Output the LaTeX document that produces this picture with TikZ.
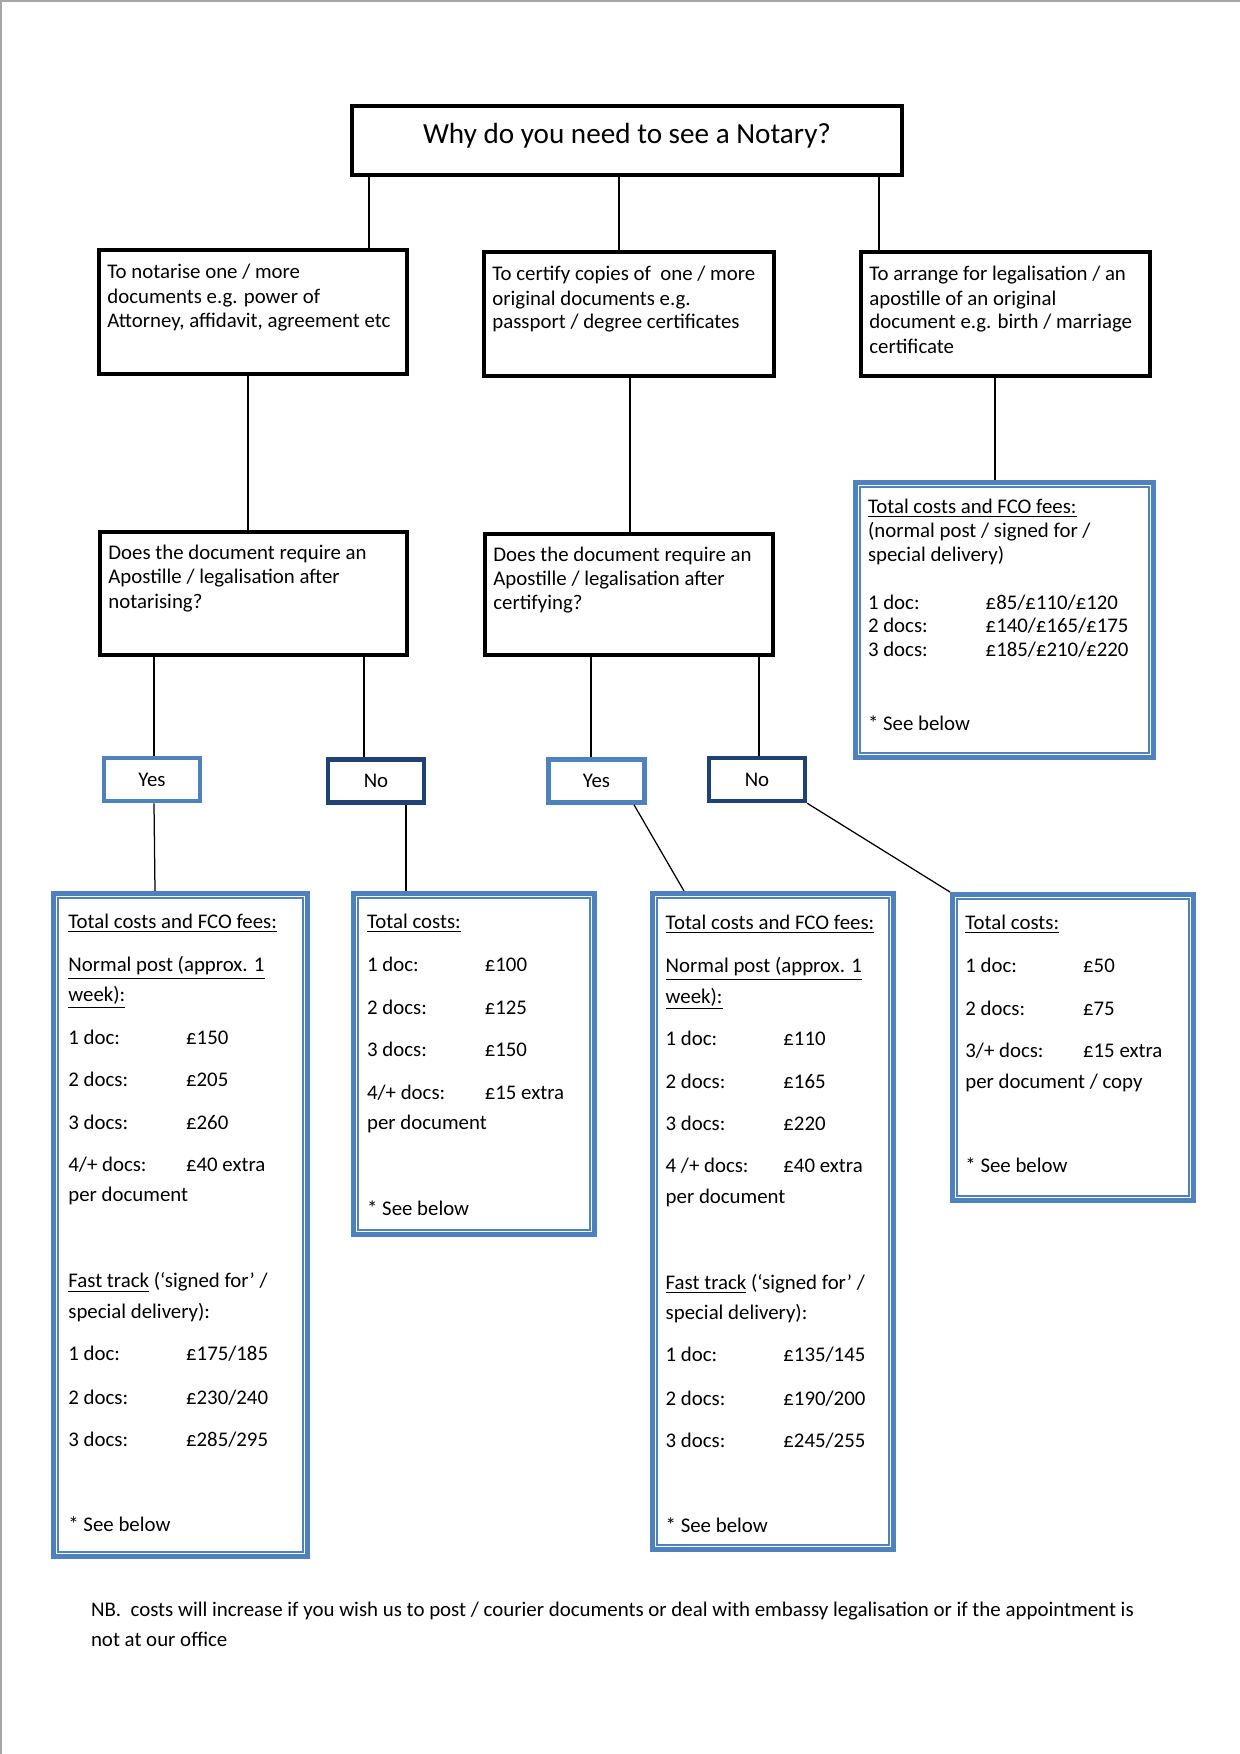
\documentclass[tikz,border=0pt]{standalone}
\usepackage{fontspec}
\setmainfont{Carlito}
\usepackage{graphicx}
\usetikzlibrary{fit}
\definecolor{accblue}{HTML}{4F81BD}
\definecolor{navyblue}{HTML}{1F4173}
\newcommand\pricerow[2]{\makebox[56.5pt][l]{#1}#2}
\newcommand\innerframe[1]{\draw[innerline] ([shift={(7,7)}]#1.north west) rectangle ([shift={(-7,-7)}]#1.south east);}
\begin{document}
\begin{tikzpicture}[x=0.48pt,y=-0.48pt,
  blk/.style={draw=black,line width=1.8pt,inner sep=0pt},
  conn/.style={draw=black,line width=0.6pt},
  bluebox/.style={draw=accblue,line width=2.4pt,inner sep=0pt},
  innerline/.style={draw=accblue,line width=0.75pt},
  yesbox/.style={draw=accblue,line width=2.2pt,minimum width=46pt,minimum height=20.6pt,inner sep=0pt,font=\fontsize{10}{12}\selectfont},
  nobox/.style={yesbox,draw=navyblue},
  txt/.style={anchor=mid west,inner sep=0pt,yshift=-1.4pt,font=\fontsize{10}{12}\selectfont},
]
\useasboundingbox (0,0) rectangle (1240,1754);
% page edge
\draw[gray!70,line width=0.7pt] (1,1754) -- (1,1) -- (1240,1);

% top box
\node[blk,fit={(352,106) (902,175)}] (T) {};
\node[inner sep=0pt,font=\fontsize{14}{17}\selectfont] (Tt) at (627,135.5) {Why do you need to see a Notary?};

% level 1
\node[blk,fit={(99,250) (407,374)}] (A1) {};
\node[blk,fit={(484,252) (774,376)}] (B1) {};
\node[blk,fit={(861,252) (1150,376)}] (C1) {};
\foreach \yv/\tv [count=\i] in {270.6/{To notarise one / more},295.2/{documents e.g. power of},319.8/{Attorney, affidavit, agreement etc}}
  \node[txt] (A1t-\i) at (107,\yv) {\tv};
\foreach \yv/\tv [count=\i] in {272.8/{To certify copies of \ one / more},297.4/{original documents e.g.},321/{passport / degree certificates}}
  \node[txt] (B1t-\i) at (492,\yv) {\tv};
\foreach \yv/\tv [count=\i] in {272.8/{To arrange for legalisation / an},297.4/{apostille of an original},321/{document e.g. birth / marriage},345.5/{certificate}}
  \node[txt] (C1t-\i) at (869,\yv) {\tv};

% level 2
\node[blk,fit={(100,532) (407,655)}] (A2) {};
\node[blk,fit={(485,534) (773,655)}] (B2) {};
\node[bluebox,fit={(855.5,482.5) (1153.5,757.5)}] (C2) {};
\innerframe{C2}
\foreach \yv/\tv [count=\i] in {551.2/{Does the document require an},575.8/{Apostille / legalisation after},600.4/{notarising?}}
  \node[txt] (A2t-\i) at (108,\yv) {\tv};
\foreach \yv/\tv [count=\i] in {553.5/{Does the document require an},578/{Apostille / legalisation after},601.5/{certifying?}}
  \node[txt] (B2t-\i) at (493,\yv) {\tv};
\foreach \yv/\tv [count=\i] in {505.4/{\underline{Total costs and FCO fees:}},530/{(normal post / signed for /},553.5/{special delivery)},601.5/{\pricerow{1 doc:}{£85/£110/£120}},625/{\pricerow{2 docs:}{£140/£165/£175}},648.5/{\pricerow{3 docs:}{£185/£210/£220}},722.3/{* See below}}
  \node[txt] (C2t-\i) at (867.6,\yv) {\tv};

% yes / no
\node[yesbox] (YA) at (152,779.5) {Yes};
\node[nobox] (NA) at (376,781) {No};
\node[yesbox] (YB) at (596.5,781) {Yes};
\node[nobox] (NB) at (757,779.5) {No};

% cost boxes
\node[bluebox,fit={(53.5,893.5) (307.5,1556.5)}] (D1) {};
\node[bluebox,fit={(353.5,893.5) (594.5,1234.5)}] (D2) {};
\node[bluebox,fit={(652.5,893.5) (893.5,1549.5)}] (D3) {};
\node[bluebox,fit={(952.5,894.5) (1193.5,1200.5)}] (D4) {};
\innerframe{D1}
\innerframe{D2}
\innerframe{D3}
\innerframe{D4}

\foreach \yv/\tv [count=\i] in {920.2/{\underline{Total costs and FCO fees:}},963.8/{\underline{Normal post (approx. 1}},994/{\underline{week):}},1036.5/{\pricerow{1 doc:}{£150}},1079/{\pricerow{2 docs:}{£205}},1121.4/{\pricerow{3 docs:}{£260}},1164/{\pricerow{4/+ docs:}{£40 extra}},1194/{per document},1280/{\underline{Fast track} (‘signed for’ /},1310.4/{special delivery):},1353/{\pricerow{1 doc:}{£175/185}},1396.5/{\pricerow{2 docs:}{£230/240}},1439/{\pricerow{3 docs:}{£285/295}},1524/{* See below}}
  \node[txt] (D1t-\i) at (68,\yv) {\tv};
\foreach \yv/\tv [count=\i] in {920.2/{\underline{Total costs:}},963.8/{\pricerow{1 doc:}{£100}},1006.3/{\pricerow{2 docs:}{£125}},1048.8/{\pricerow{3 docs:}{£150}},1091.3/{\pricerow{4/+ docs:}{£15 extra}},1121.4/{per document},1207.5/{* See below}}
  \node[txt] (D2t-\i) at (366.7,\yv) {\tv};
\foreach \yv/\tv [count=\i] in {921.3/{\underline{Total costs and FCO fees:}},964.9/{\underline{Normal post (approx. 1}},995.1/{\underline{week):}},1037.6/{\pricerow{1 doc:}{£110}},1080.1/{\pricerow{2 docs:}{£165}},1122.5/{\pricerow{3 docs:}{£220}},1165/{\pricerow{4 /+ docs:}{£40 extra}},1195.2/{per document},1281.3/{\underline{Fast track} (‘signed for’ /},1311.5/{special delivery):},1354/{\pricerow{1 doc:}{£135/145}},1397.6/{\pricerow{2 docs:}{£190/200}},1440/{\pricerow{3 docs:}{£245/255}},1525/{* See below}}
  \node[txt] (D3t-\i) at (665.3,\yv) {\tv};
\foreach \yv/\tv [count=\i] in {921.3/{\underline{Total costs:}},964.9/{\pricerow{1 doc:}{£50}},1007.4/{\pricerow{2 docs:}{£75}},1049.9/{\pricerow{3/+ docs:}{£15 extra}},1080.1/{per document / copy},1165/{* See below}}
  \node[txt] (D4t-\i) at (965,\yv) {\tv};

% connector x positions
\coordinate (xTA) at (369,0);
\coordinate (xTB) at (619,0);
\coordinate (xTC) at (879,0);
\coordinate (xA12) at (248,0);
\coordinate (xB12) at (630,0);
\coordinate (xC12) at (995,0);
\coordinate (xAY) at (154,0);
\coordinate (xAY2) at (155,0);
\coordinate (xAN) at (364,0);
\coordinate (xAN2) at (406,0);
\coordinate (xBY) at (591,0);
\coordinate (xBN) at (759,0);
\coordinate (xYB1) at (634,0);
\coordinate (xYB2) at (684,0);

\draw[conn] (T.south -| xTA) -- (A1.north -| xTA);
\draw[conn] (T.south -| xTB) -- (B1.north -| xTB);
\draw[conn] (T.south -| xTC) -- (C1.north -| xTC);
\draw[conn] (A1.south -| xA12) -- (A2.north -| xA12);
\draw[conn] (B1.south -| xB12) -- (B2.north -| xB12);
\draw[conn] (C1.south -| xC12) -- (C2.north -| xC12);
\draw[conn] (A2.south -| xAY) -- (YA.north -| xAY);
\draw[conn] (A2.south -| xAN) -- (NA.north -| xAN);
\draw[conn] (B2.south -| xBY) -- (YB.north -| xBY);
\draw[conn] (B2.south -| xBN) -- (NB.north -| xBN);
\draw[conn] (YA.south -| xAY) -- (D1.north -| xAY2);
\draw[conn] (NA.south -| xAN2) -- (D2.north -| xAN2);
\draw[conn] (YB.south -| xYB1) -- (D3.north -| xYB2);
\draw[conn] (NB.south east) -- (D4.north west);

% footnote
\node[anchor=base west,inner sep=0pt,font=\fontsize{10}{14.4}\selectfont] (nbnote) at (90.6,1616) {\resizebox{500.6pt}{\height}{\begin{tabular}[t]{@{}l@{}}NB.\ \ costs will increase if you wish us to post / courier documents or deal with embassy legalisation or if the appointment is\\not at our office\end{tabular}}};
\end{tikzpicture}
\end{document}
